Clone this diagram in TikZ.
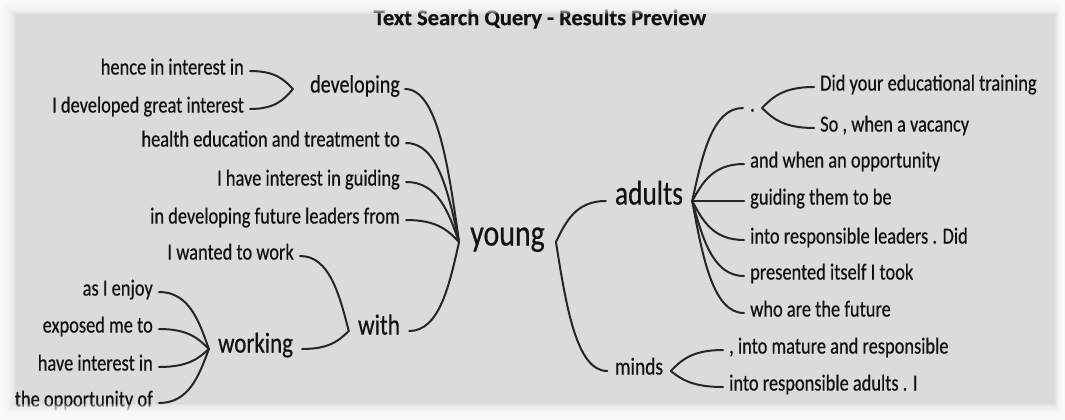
\documentclass[tikz,border=0pt]{standalone}
\usepackage{fontspec}
\setmainfont{Carlito}[FakeStretch=0.8, FakeBold=0.5]
\newfontfamily\titlefont{Carlito}[FakeBold=0.6]
\usetikzlibrary{calc}
\definecolor{panel}{HTML}{DBDBDB}
\definecolor{ink}{HTML}{121212}
\definecolor{wire}{HTML}{262626}
\tikzset{
  word/.style={font=\fontsize{#1}{#1}\selectfont, text=ink, inner ysep=0pt,
    inner xsep=6pt, text height=0.9em, text depth=0.19em},
  leafL/.style={word=23, anchor=east},
  leafR/.style={word=23, anchor=west},
  link/.style={draw=wire, line width=2pt, line cap=round,
    to path={let \p1=(\tikztostart), \p2=(\tikztotarget) in
      .. controls ($(\p1)+({0.2*(\x2-\x1)},{0.5*(\y2-\y1)})$)
      and ($(\p2)+({-0.6*(\x2-\x1)},0pt)$) .. (\p2)}}
}
\begin{document}
\begin{tikzpicture}[x=1pt,y=-1pt]
\useasboundingbox (0,0) rectangle (1065,420);
% panel
\fill[panel] (0,0) rectangle (1065,420);

% title
\node[font=\titlefont\bfseries\fontsize{22.5}{22.5}\selectfont, text=ink] (title) at (540,19) {Text Search Query - Results Preview};

% left part of the tree
\node[leafL] (h1) at (250,71) {hence in interest in};
\node[leafL] (h2) at (250,109) {I developed great interest};
\node[word=25.1, inner xsep=5pt] (dev) at (355,89) {developing};
\node[leafL] (l3) at (406,143) {health education and treatment to};
\node[leafL] (l4) at (406,182) {I have interest in guiding};
\node[leafL] (l5) at (406,220) {in developing future leaders from};
\node[word=37.4, inner xsep=11pt] (young) at (507.5,242) {young};
\node[leafL] (wtw) at (300,256) {I wanted to work};
\node[word=29.1, inner xsep=9pt] (with) at (379,331) {with};
\node[word=28.7, inner xsep=9pt] (working) at (255.5,349) {working};
\node[leafL] (wa) at (159,292) {as I enjoy};
\node[leafL] (wb) at (159,329) {exposed me to};
\node[leafL] (wc) at (159,367) {have interest in};
\node[leafL] (wd) at (159,403) {the opportunity of};

% right part of the tree
\node[word=34.2, inner xsep=9pt] (adults) at (649,201) {adults};
\node[word=24.3, inner xsep=7.5pt] (minds) at (639,371) {minds};
\node[word=23, inner xsep=7pt] (dot) at (752.5,108) {.};
\node[leafR] (r1) at (814,87) {Did your educational training};
\node[leafR] (r2) at (814,128) {So , when a vacancy};
\node[leafR] (r3) at (744,164) {and when an opportunity};
\node[leafR] (r4) at (744,201) {guiding them to be};
\node[leafR] (r5) at (744,240) {into responsible leaders . Did};
\node[leafR] (r6) at (744,276) {presented itself I took};
\node[leafR] (r7) at (744,313) {who are the future};
\node[leafR] (m1) at (723,350) {, into mature and responsible};
\node[leafR] (m2) at (723,387) {into responsible adults . I};

% connectors
\draw[link] ([xshift=-12pt]dev.west) to (h1.east);
\draw[link] ([xshift=-12pt]dev.west) to (h2.east);
\foreach \c in {dev,l3,l4,l5,with}
  \draw[link] (young.west) to (\c.east);
\draw[link] (with.west) to (wtw.east);
\draw[link] (with.west) to (working.east);
\foreach \c in {wa,wb,wc,wd}
  \draw[link] (working.west) to (\c.east);
\draw[link] (young.east) to (adults.west);
\draw[link] (young.east) to (minds.west);
\foreach \c in {dot,r3,r4,r5,r6,r7}
  \draw[link] (adults.east) to (\c.west);
\draw[link] (dot.east) to (r1.west);
\draw[link] (dot.east) to (r2.west);
\draw[link] (minds.east) to (m1.west);
\draw[link] (minds.east) to (m2.west);

% soft white edge round the panel
\foreach \i in {0,...,11}{
  \fill[white, opacity=0.2, even odd rule]
    (0,0) rectangle (1065,420)
    (1+1.3*\i, 2+1.1*\i) rectangle (1064-0.8*\i, 417-1.2*\i);
}
\end{tikzpicture}
\end{document}
